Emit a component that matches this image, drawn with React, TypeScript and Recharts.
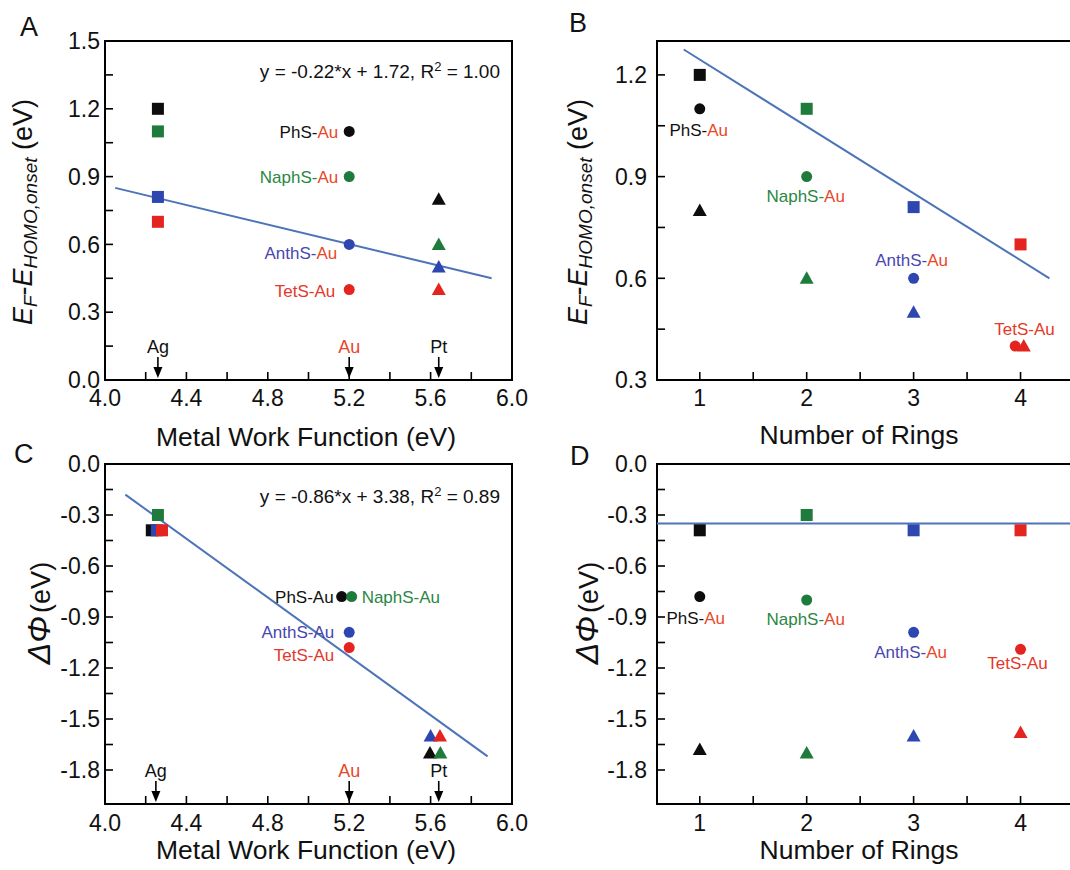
import React from 'react';
import { ScatterChart, Scatter, XAxis, YAxis, ReferenceArea } from 'recharts';

const FONT = '"Liberation Sans", Arial, Helvetica, sans-serif';

// ---------- categories ----------
const molecules = ['PhS', 'NaphS', 'AnthS', 'TetS'];
const metals = ['Ag', 'Au', 'Pt'];
const workFunction = [4.26, 5.2, 5.64]; // Ag, Au, Pt (eV)

// ---------- panel A / B : E_F - E_HOMO,onset (eV), by molecule ----------
const homoAg = [1.2, 1.1, 0.81, 0.7];
const homoAu = [1.1, 0.9, 0.6, 0.4];
const homoPt = [0.8, 0.6, 0.5, 0.4];
// panel B x positions (number of rings) per metal
const ringsAg = [1, 2, 3, 4];
const ringsAu = [1, 2, 3, 3.95];
const ringsPt = [1, 2, 3, 4.03];

// ---------- panel C : ΔΦ (eV) vs work function ----------
const dphiAgC = [-0.39, -0.3, -0.39, -0.39];
const wfAgC = [4.23, 4.26, 4.255, 4.28];
const dphiAuC = [-0.78, -0.78, -0.99, -1.08];
const wfAuC = [5.163, 5.212, 5.2, 5.2];
const dphiPtC = [-1.7, -1.7, -1.6, -1.6];
const wfPtC = [5.597, 5.648, 5.6, 5.646];

// ---------- panel D : ΔΦ (eV) vs rings ----------
const dphiAgD = [-0.39, -0.3, -0.39, -0.39];
const dphiAuD = [-0.78, -0.8, -0.99, -1.09];
const dphiPtD = [-1.68, -1.7, -1.6, -1.58];

// ---------- fit lines ----------
const fitAX = [4.05, 5.9];
const fitAY = [0.85, 0.45];
const fitBX = [0.85, 4.27];
const fitBY = [1.275, 0.6];
const fitCX = [4.1, 5.88];
const fitCY = [-0.18, -1.72];
const fitDX = [0.6, 4.5];
const fitDY = [-0.35, -0.35];

// ---------- arrows (metal work functions) ----------
const arrowXA = [4.26, 5.2, 5.64];
const arrowXC = [4.25, 5.2, 5.64];

// ---------- ticks ----------
const xTicksWF = [4.0, 4.2, 4.4, 4.6, 4.8, 5.0, 5.2, 5.4, 5.6, 5.8, 6.0];
const xLabelsWF = [4.0, 4.4, 4.8, 5.2, 5.6, 6.0];
const xTicksRings = [1, 1.5, 2, 2.5, 3, 3.5, 4];
const xLabelsRings = [1, 2, 3, 4];
const yTicksA = [0, 0.15, 0.3, 0.45, 0.6, 0.75, 0.9, 1.05, 1.2, 1.35, 1.5];
const yLabelsA = [0, 0.3, 0.6, 0.9, 1.2, 1.5];
const yTicksB = [0.3, 0.45, 0.6, 0.75, 0.9, 1.05, 1.2];
const yLabelsB = [0.3, 0.6, 0.9, 1.2];
const yTicksCD = [0, -0.15, -0.3, -0.45, -0.6, -0.75, -0.9, -1.05, -1.2, -1.35, -1.5, -1.65, -1.8];
const yLabelsCD = [0, -0.3, -0.6, -0.9, -1.2, -1.5, -1.8];

// ---------- styles ----------
const markerColor: Record<string, string> = { PhS: '#0d0d0d', NaphS: '#1e7b3c', AnthS: '#2e46b0', TetS: '#e3241f' };
const textColor: Record<string, string> = { PhS: '#111111', NaphS: '#2a8744', AnthS: '#4747b0', TetS: '#e5372a' };
const AU_RED = '#e8482a';
const LINE_BLUE = '#4d74b8';

const pts = (xs: number[], ys: number[], metal: string) =>
  molecules.map((m, i) => ({ x: xs[i], y: ys[i], mol: m, metal }));
const same = (v: number) => molecules.map(() => v);
const fit = (xs: number[], ys: number[]) => xs.map((x, i) => ({ x, y: ys[i] }));

// data sets
const aSeries = [
  pts(same(workFunction[0]), homoAg, 'Ag'),
  pts(same(workFunction[1]), homoAu, 'Au'),
  pts(same(workFunction[2]), homoPt, 'Pt'),
];
const bSeries = [pts(ringsAg, homoAg, 'Ag'), pts(ringsAu, homoAu, 'Au'), pts(ringsPt, homoPt, 'Pt')];
const cSeries = [pts(wfAgC, dphiAgC, 'Ag'), pts(wfAuC, dphiAuC, 'Au'), pts(wfPtC, dphiPtC, 'Pt')];
const dSeries = [pts(ringsAg, dphiAgD, 'Ag'), pts(ringsAg, dphiAuD, 'Au'), pts(ringsAg, dphiPtD, 'Pt')];

const labelsA = pts(same(workFunction[1]), homoAu, 'Au');
const labelsB = pts(ringsAg, homoAu, 'Au');
const labelsC = pts(wfAuC, dphiAuC, 'Au');
const labelsD = pts(ringsAg, dphiAuD, 'Au');

const arrowsA = metals.map((m, i) => ({ x: arrowXA[i], y: 0, label: m }));
const arrowsC = metals.map((m, i) => ({ x: arrowXC[i], y: -2.0, label: m }));

// label layouts (pixel offsets from the Au point)
type Lay = { dx: number; dy: number; anchor: 'start' | 'middle' | 'end' };
const layoutA: Record<string, Lay> = {
  PhS: { dx: -11, dy: 0, anchor: 'end' },
  NaphS: { dx: -11, dy: 0, anchor: 'end' },
  AnthS: { dx: -12, dy: 8, anchor: 'end' },
  TetS: { dx: -14, dy: 1, anchor: 'end' },
};
const layoutB: Record<string, Lay> = {
  PhS: { dx: -1, dy: 21, anchor: 'middle' },
  NaphS: { dx: -1, dy: 19, anchor: 'middle' },
  AnthS: { dx: -2, dy: -18, anchor: 'middle' },
  TetS: { dx: 4, dy: -17, anchor: 'middle' },
};
const layoutC: Record<string, Lay> = {
  PhS: { dx: -8, dy: 0, anchor: 'end' },
  NaphS: { dx: 10, dy: 0, anchor: 'start' },
  AnthS: { dx: -15, dy: 0, anchor: 'end' },
  TetS: { dx: -15, dy: 7, anchor: 'end' },
};
const layoutD: Record<string, Lay> = {
  PhS: { dx: -4, dy: 21, anchor: 'middle' },
  NaphS: { dx: -1, dy: 19, anchor: 'middle' },
  AnthS: { dx: -3, dy: 20, anchor: 'middle' },
  TetS: { dx: -3, dy: 14, anchor: 'middle' },
};

// ---------- shapes ----------
const Marker = (props: any) => {
  const { cx, cy, payload } = props;
  if (cx == null || cy == null) return <g />;
  const c = markerColor[payload.mol];
  if (payload.metal === 'Ag') return <rect x={cx - 6} y={cy - 6} width={12} height={12} fill={c} />;
  if (payload.metal === 'Au') return <circle cx={cx} cy={cy} r={5.5} fill={c} />;
  return <polygon points={`${cx},${cy - 7} ${cx - 7},${cy + 5.5} ${cx + 7},${cy + 5.5}`} fill={c} />;
};

const Empty = () => <g />;

const makeLabelShape = (layout: Record<string, Lay>, mono: boolean) => (props: any) => {
  const { cx, cy, payload } = props;
  if (cx == null || cy == null) return <g />;
  const L = layout[payload.mol];
  const m = payload.mol;
  let parts: { t: string; c: string }[];
  if (mono) parts = [{ t: m + '-Au', c: textColor[m] }];
  else if (m === 'TetS') parts = [{ t: 'TetS-Au', c: textColor[m] }];
  else parts = [{ t: m + '-', c: textColor[m] }, { t: 'Au', c: AU_RED }];
  return (
    <text x={cx + L.dx} y={cy + L.dy} dy="0.36em" textAnchor={L.anchor} fontSize={17} fontFamily={FONT}>
      {parts.map((p, i) => (
        <tspan key={i} fill={p.c}>{p.t}</tspan>
      ))}
    </text>
  );
};

const ArrowShape = (props: any) => {
  const { cx, cy, payload } = props;
  if (cx == null || cy == null) return <g />;
  return (
    <g>
      <line x1={cx} x2={cx} y1={cy - 23} y2={cy - 10} stroke="#000" strokeWidth={1.6} />
      <polygon points={`${cx},${cy - 2} ${cx - 4.5},${cy - 13} ${cx + 4.5},${cy - 13}`} fill="#000" />
      <text x={cx} y={cy - 27} textAnchor="middle" fontSize={18} fontFamily={FONT} fill={payload.label === 'Au' ? AU_RED : '#111'}>
        {payload.label}
      </text>
    </g>
  );
};

const near = (list: number[], v: number) => list.some((l) => Math.abs(l - v) < 1e-6);

const makeYTick = (labels: number[], margin: number) => (props: any) => {
  const { x, y, payload } = props;
  const axisX = x + margin;
  const v = payload.value as number;
  return (
    <g>
      <line x1={axisX} x2={axisX + 8} y1={y} y2={y} stroke="#000" strokeWidth={1.6} />
      {near(labels, v) && (
        <text x={x} y={y} dy="0.36em" textAnchor="end" fontSize={23} fontFamily={FONT} fill="#111">
          {Math.abs(v) < 1e-9 ? '0.0' : v.toFixed(1)}
        </text>
      )}
    </g>
  );
};

const makeXTick = (labels: number[], margin: number, digits: number) => (props: any) => {
  const { x, y, payload } = props;
  const axisY = y - margin;
  const v = payload.value as number;
  return (
    <g>
      <line x1={x} x2={x} y1={axisY} y2={axisY - 8} stroke="#000" strokeWidth={1.6} />
      {near(labels, v) && (
        <text x={x} y={y} dy="0.72em" textAnchor="middle" fontSize={23} fontFamily={FONT} fill="#111">
          {v.toFixed(digits)}
        </text>
      )}
    </g>
  );
};

type PanelProps = {
  width: number;
  height: number;
  top: number;
  right: number;
  yWidth: number;
  xHeight: number;
  xDomain: [number, number];
  yDomain: [number, number];
  xTicks: number[];
  xLabels: number[];
  xDigits: number;
  yTicks: number[];
  yLabels: number[];
  yMargin: number;
  xMargin: number;
  series: any[][];
  fitData: { x: number; y: number }[];
  labelData: any[];
  labelShape: any;
  arrowData?: any[];
  children?: React.ReactNode;
};

function Panel(p: PanelProps) {
  return (
    <ScatterChart width={p.width} height={p.height} margin={{ top: p.top, right: p.right, bottom: 0, left: 0 }}>
      <XAxis
        type="number"
        dataKey="x"
        domain={p.xDomain}
        ticks={p.xTicks}
        interval={0}
        height={p.xHeight}
        axisLine={false}
        tickLine={false}
        tickSize={0}
        tickMargin={p.xMargin}
        tick={makeXTick(p.xLabels, p.xMargin, p.xDigits)}
        allowDataOverflow
      />
      <YAxis
        type="number"
        dataKey="y"
        domain={p.yDomain}
        ticks={p.yTicks}
        interval={0}
        width={p.yWidth}
        axisLine={false}
        tickLine={false}
        tickSize={0}
        tickMargin={p.yMargin}
        tick={makeYTick(p.yLabels, p.yMargin)}
        allowDataOverflow
      />
      <ReferenceArea
        x1={p.xDomain[0]}
        x2={p.xDomain[1]}
        y1={p.yDomain[0]}
        y2={p.yDomain[1]}
        fill="none"
        fillOpacity={0}
        stroke="#000"
        strokeWidth={2}
        ifOverflow="visible"
      />
      <Scatter
        data={p.fitData}
        line={{ stroke: LINE_BLUE, strokeWidth: 2 }}
        shape={Empty}
        isAnimationActive={false}
        legendType="none"
      />
      {p.series.map((s, i) => (
        <Scatter key={i} data={s} shape={Marker} isAnimationActive={false} />
      ))}
      <Scatter data={p.labelData} shape={p.labelShape} isAnimationActive={false} />
      {p.arrowData && <Scatter data={p.arrowData} shape={ArrowShape} isAnimationActive={false} />}
      {p.children}
    </ScatterChart>
  );
}

const txt = { fontFamily: FONT, fill: '#111' };

const YTitleHomo = ({ x, y }: { x: number; y: number }) => (
  <text transform={`translate(${x},${y}) rotate(-90)`} textAnchor="middle" fontSize={27} {...txt}>
    <tspan fontStyle="italic">E</tspan>
    <tspan fontStyle="italic" fontSize={19} dy={5}>F</tspan>
    <tspan dy={-5}>-</tspan>
    <tspan fontStyle="italic">E</tspan>
    <tspan fontStyle="italic" fontSize={19} dy={5}>HOMO,onset</tspan>
    <tspan dy={-5}> (eV)</tspan>
  </text>
);

const YTitlePhi = ({ x, y }: { x: number; y: number }) => (
  <text transform={`translate(${x},${y}) rotate(-90)`} textAnchor="middle" fontSize={27} {...txt}>
    <tspan fontStyle="italic" fontSize={32}>ΔΦ</tspan>
    <tspan dx={3}>(eV)</tspan>
  </text>
);

export default function App() {
  return (
    <div style={{ position: 'absolute', left: 0, top: 0, width: 1070, height: 870, overflow: 'hidden', background: '#fff' }}>
      {/* Panel A */}
      <div style={{ position: 'absolute', left: 0, top: 0 }}>
        <Panel
          width={530}
          height={460}
          top={41}
          right={18}
          yWidth={105}
          xHeight={80}
          xDomain={[4, 6]}
          yDomain={[0, 1.5]}
          xTicks={xTicksWF}
          xLabels={xLabelsWF}
          xDigits={1}
          yTicks={yTicksA}
          yLabels={yLabelsA}
          yMargin={5}
          xMargin={9}
          series={aSeries}
          fitData={fit(fitAX, fitAY)}
          labelData={labelsA}
          labelShape={makeLabelShape(layoutA, false)}
          arrowData={arrowsA}
        >
          <text x={20} y={36} fontSize={27} {...txt}>A</text>
          <YTitleHomo x={32} y={212} />
          <text x={306} y={446} textAnchor="middle" fontSize={26.5} {...txt}>Metal Work Function (eV)</text>
          <text x={500} y={78} textAnchor="end" fontSize={19} {...txt}>
            y = -0.22*x + 1.72, R<tspan dy={-7} fontSize={13}>2</tspan>
            <tspan dy={7}> = 1.00</tspan>
          </text>
        </Panel>
      </div>

      {/* Panel B */}
      <div style={{ position: 'absolute', left: 550, top: 0 }}>
        <Panel
          width={530}
          height={460}
          top={41}
          right={6}
          yWidth={107}
          xHeight={80}
          xDomain={[0.6, 4.5]}
          yDomain={[0.3, 1.3]}
          xTicks={xTicksRings}
          xLabels={xLabelsRings}
          xDigits={0}
          yTicks={yTicksB}
          yLabels={yLabelsB}
          yMargin={10}
          xMargin={9}
          series={bSeries}
          fitData={fit(fitBX, fitBY)}
          labelData={labelsB}
          labelShape={makeLabelShape(layoutB, false)}
        >
          <text x={19} y={32} fontSize={27} {...txt}>B</text>
          <YTitleHomo x={37} y={212} />
          <text x={309} y={444} textAnchor="middle" fontSize={26.5} {...txt}>Number of Rings</text>
        </Panel>
      </div>

      {/* Panel C */}
      <div style={{ position: 'absolute', left: 0, top: 430 }}>
        <Panel
          width={530}
          height={440}
          top={34}
          right={18}
          yWidth={105}
          xHeight={66}
          xDomain={[4, 6]}
          yDomain={[-2.0, 0]}
          xTicks={xTicksWF}
          xLabels={xLabelsWF}
          xDigits={1}
          yTicks={yTicksCD}
          yLabels={yLabelsCD}
          yMargin={5}
          xMargin={10}
          series={cSeries}
          fitData={fit(fitCX, fitCY)}
          labelData={labelsC}
          labelShape={makeLabelShape(layoutC, true)}
          arrowData={arrowsC}
        >
          <text x={14} y={33} fontSize={27} {...txt}>C</text>
          <YTitlePhi x={50} y={183} />
          <text x={306} y={429} textAnchor="middle" fontSize={26.5} {...txt}>Metal Work Function (eV)</text>
          <text x={500} y={73} textAnchor="end" fontSize={19} {...txt}>
            y = -0.86*x + 3.38, R<tspan dy={-7} fontSize={13}>2</tspan>
            <tspan dy={7}> = 0.89</tspan>
          </text>
        </Panel>
      </div>

      {/* Panel D */}
      <div style={{ position: 'absolute', left: 550, top: 430 }}>
        <Panel
          width={530}
          height={440}
          top={34}
          right={6}
          yWidth={107}
          xHeight={66}
          xDomain={[0.6, 4.5]}
          yDomain={[-2.0, 0]}
          xTicks={xTicksRings}
          xLabels={xLabelsRings}
          xDigits={0}
          yTicks={yTicksCD}
          yLabels={yLabelsCD}
          yMargin={10}
          xMargin={10}
          series={dSeries}
          fitData={fit(fitDX, fitDY)}
          labelData={labelsD}
          labelShape={makeLabelShape(layoutD, false)}
        >
          <text x={20} y={35} fontSize={27} {...txt}>D</text>
          <YTitlePhi x={48} y={183} />
          <text x={309} y={429} textAnchor="middle" fontSize={26.5} {...txt}>Number of Rings</text>
        </Panel>
      </div>
    </div>
  );
}
